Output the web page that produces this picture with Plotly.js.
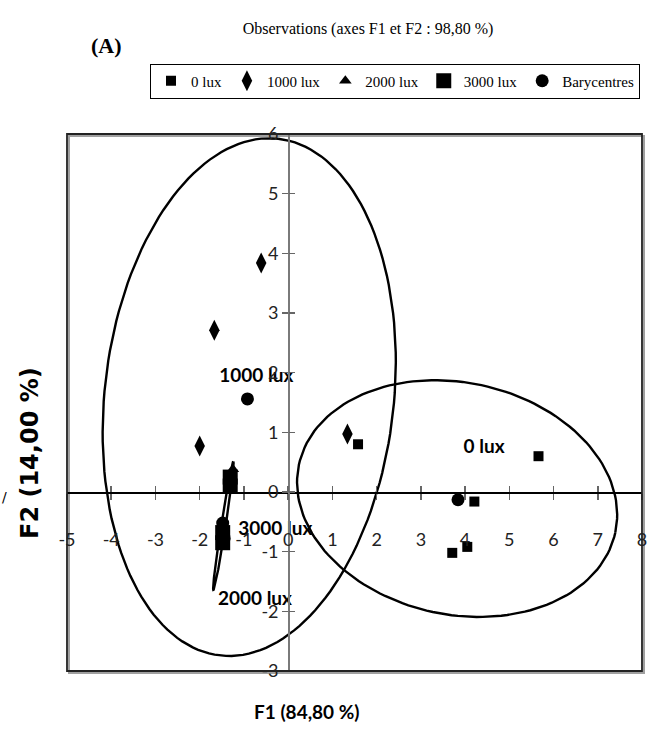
<!DOCTYPE html>
<html>
<head>
<meta charset="utf-8">
<script src="https://cdn.plot.ly/plotly-3.0.1.min.js"></script>
<style>html,body{margin:0;padding:0;background:#fff;}#chart{width:651px;height:733px;}</style>
</head>
<body>
<div id="chart"></div>
<script>
// ---- data ----
const xTicks = [-5,-4,-3,-2,-1,0,1,2,3,4,5,6,7,8];
const yTicks = [-3,-2,-1,0,1,2,3,4,5,6];

const lux0X = [1.58, 5.66, 4.21, 3.71, 4.05];
const lux0Y = [0.80, 0.60, -0.16, -1.02, -0.92];

const lux1000X = [-0.61, -1.67, -2.00, 1.34];
const lux1000Y = [3.84, 2.71, 0.77, 0.97];

const lux2000X = [-1.25, -1.33, -1.50, -1.46];
const lux2000Y = [0.38, 0.10, -0.75, -0.85];

const lux3000X = [-1.31, -1.31, -1.48, -1.48];
const lux3000Y = [0.25, 0.10, -0.68, -0.85];

const baryX = [3.84, -0.92, -1.48, -1.45];
const baryY = [-0.13, 1.56, -0.52, -0.78];

const labelText = ['0 lux', '1000 lux', '3000 lux', '2000 lux'];
const labelX = [4.43, -0.72, -0.29, -0.75];
const labelY = [0.73, 1.93, -0.64, -1.81];

// confidence ellipses: centre + two semi-axis vectors (data units)
const ellipseCx = [3.82, -0.88, -1.465];
const ellipseCy = [-0.11, 1.59, -0.565];
const ellipseUx = [3.577, 0.656, 0.225];
const ellipseUy = [-0.568, 4.33, 1.075];
const ellipseVx = [0.55, 3.249, 0.05];
const ellipseVy = [1.901, -0.270, -0.005];

// ---- build traces ----
const traces = [];
for (let k = 0; k < ellipseCx.length; k++) {
  const ex = [], ey = [];
  const n = 160;
  for (let i = 0; i <= n; i++) {
    const t = 2 * Math.PI * i / n;
    ex.push(ellipseCx[k] + ellipseUx[k] * Math.cos(t) + ellipseVx[k] * Math.sin(t));
    ey.push(ellipseCy[k] + ellipseUy[k] * Math.cos(t) + ellipseVy[k] * Math.sin(t));
  }
  traces.push({x: ex, y: ey, mode: 'lines', line: {color: '#000', width: 2.4},
               showlegend: false, hoverinfo: 'skip'});
}
const mk = (sym, size) => ({symbol: sym, size: size, color: '#000', line: {width: 0}});
traces.push({x: lux0X, y: lux0Y, name: '0 lux', mode: 'markers', marker: mk('square', 10)});
traces.push({x: lux1000X, y: lux1000Y, name: '1000 lux', mode: 'markers', marker: mk('diamond-tall', 15)});
traces.push({x: lux2000X, y: lux2000Y, name: '2000 lux', mode: 'markers', marker: mk('triangle-up', 11)});
traces.push({x: lux3000X, y: lux3000Y, name: '3000 lux', mode: 'markers', marker: mk('square', 15)});
traces.push({x: baryX, y: baryY, name: 'Barycentres', mode: 'markers', marker: mk('circle', 13)});
traces.push({x: labelX, y: labelY, text: labelText, mode: 'text', showlegend: false,
             textfont: {family: 'Lato', size: 19, color: '#000', weight: 'bold'}, hoverinfo: 'skip'});
// carrier for the overlaid tick axes (cross ticks)
traces.push({x: [null], y: [null], xaxis: 'x2', yaxis: 'y2', showlegend: false, hoverinfo: 'skip', mode: 'markers'});

const tickFont = {family: 'Lato', size: 18, color: '#222'};
const layout = {
  width: 651, height: 733,
  margin: {l: 67, r: 9, t: 134, b: 62, autoexpand: false},
  paper_bgcolor: '#fff', plot_bgcolor: '#fff',
  title: {text: 'Observations (axes F1 et F2 : 98,80 %)', x: 368/651, xanchor: 'center',
          y: 1 - 28/733, yanchor: 'middle',
          font: {family: 'Liberation Serif', size: 16, color: '#000'}},
  showlegend: true,
  legend: {orientation: 'h', x: (395-67)/575, xanchor: 'center', y: (671-81)/537, yanchor: 'middle',
           bordercolor: '#000', borderwidth: 1, bgcolor: '#fff', itemsizing: 'trace',
           font: {family: 'Liberation Serif', size: 15, color: '#000'}},
  xaxis: {range: [-5, 8], anchor: 'free', position: 3/9, showline: true, linecolor: '#000', linewidth: 1.5,
          ticks: 'outside', ticklen: 6, tickwidth: 1.5, tickcolor: '#666',
          tickvals: xTicks, ticktext: xTicks.map(String), ticklabelstandoff: 25,
          tickfont: tickFont, showgrid: false, zeroline: false, automargin: false},
  yaxis: {range: [-3, 6], anchor: 'free', position: 5/13, showline: true, linecolor: '#7a7a7a', linewidth: 1.5,
          ticks: 'outside', ticklen: 6, tickwidth: 1.5, tickcolor: '#666',
          tickvals: yTicks, ticktext: yTicks.map(String), ticklabelstandoff: 0,
          tickfont: tickFont, showgrid: false, zeroline: false, automargin: false},
  xaxis2: {range: [-5, 8], overlaying: 'x', anchor: 'free', position: 3/9, showline: false,
           ticks: 'inside', ticklen: 6, tickwidth: 1.5, tickcolor: '#666', tickvals: xTicks,
           showticklabels: false, showgrid: false, zeroline: false, automargin: false},
  yaxis2: {range: [-3, 6], overlaying: 'y', anchor: 'free', position: 5/13, showline: false,
           ticks: 'inside', ticklen: 6, tickwidth: 1.5, tickcolor: '#666', tickvals: yTicks,
           showticklabels: false, showgrid: false, zeroline: false, automargin: false},
  shapes: [
    {type: 'rect', xref: 'paper', yref: 'paper', x0: 2/575, x1: 1 + 2/575, y0: -2/537, y1: 1 - 2/537,
     line: {color: '#a0a0a0', width: 2}, layer: 'below'},
    {type: 'rect', xref: 'paper', yref: 'paper', x0: 0, x1: 1, y0: 0, y1: 1,
     line: {color: '#222', width: 1.8}}
  ],
  annotations: [
    {text: '(A)', xref: 'paper', yref: 'paper', x: (106-67)/575, y: (671-45)/537, xanchor: 'center', yanchor: 'middle',
     showarrow: false, font: {family: 'Liberation Serif', size: 22, color: '#000', weight: 'bold'}},
    {text: 'F1 (84,80 %)', xref: 'paper', yref: 'paper', x: (307-67)/575, y: (671-711)/537, xanchor: 'center', yanchor: 'middle',
     showarrow: false, font: {family: 'Lato', size: 19, color: '#000', weight: 'bold'}},
    {text: 'F2 (14,00 %)', xref: 'paper', yref: 'paper', x: (30-67)/575, y: (671-453)/537, xanchor: 'center', yanchor: 'middle',
     textangle: -90, showarrow: false, font: {family: 'DejaVu Sans', size: 24, color: '#000', weight: 'bold'}},
    {text: '/', xref: 'paper', yref: 'paper', x: (4-67)/575, y: (671-497)/537, xanchor: 'center', yanchor: 'middle',
     showarrow: false, font: {family: 'DejaVu Sans', size: 14, color: '#000'}}
  ]
};
Plotly.newPlot('chart', traces, layout, {staticPlot: true});
</script>
</body>
</html>
